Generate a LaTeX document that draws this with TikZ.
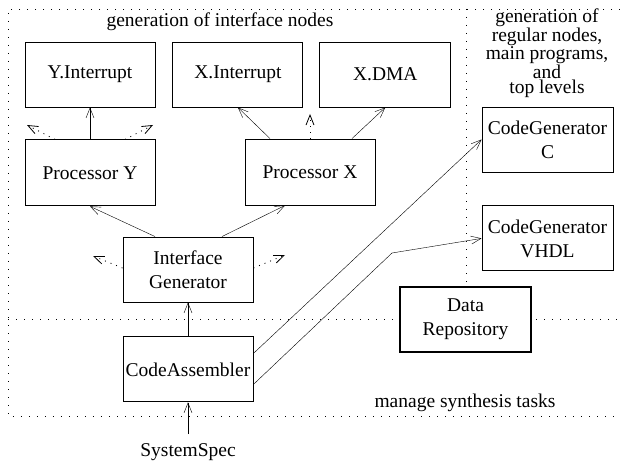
\documentclass[tikz,border=0pt]{standalone}
\usepackage{fontspec}
\setmainfont{Liberation Serif}
\usetikzlibrary{positioning,arrows.meta}

\begin{document}
\begin{tikzpicture}[x=1pt,y=1pt,
  font=\fontsize{19.5}{24}\selectfont,
  >={Straight Barb[length=10pt,width=8pt]},
  box/.style={draw, fill=white, line width=0.9pt, minimum width=130pt,
    minimum height=65pt, inner sep=0pt, align=center},
  frame/.style={line width=0.9pt, dash pattern=on 0.9pt off 7.1pt},
  hint/.style={->, line width=0.8pt, dash pattern=on 1pt off 5pt}]
  \useasboundingbox (0,0) rectangle (620,461);
  % f1--f4 are the corners of the dotted frame
  \coordinate (f1) at (8,452);
  \coordinate (f2) at (620,452);
  \coordinate (f3) at (8,45);
  \coordinate (f4) at (620,45);
  % m1-m2 splits the frame, v1-v2 splits its upper part
  \coordinate (m1) at (8,142);
  \coordinate (m2) at (620,142);
  \coordinate (v1) at (466,452);
  \coordinate (v2) at (466,179);
  \draw[frame] (f2) -- (f1) -- (f3) -- (f4);
  \draw[frame] (m1) -- (m2);
  \draw[frame] (v1) -- (v2);
  % interface nodes
  \node[box] (yint) at (90,386.5) {Y.Interrupt};
  \node[box, right=17pt of yint] (xint) {X.Interrupt};
  \node[box, right=16pt of xint, minimum width=131pt] (xdma) {X.DMA};
  \node[box, below=32pt of yint, minimum height=66pt] (procy) {Processor Y};
  \node[box, minimum height=66pt] (procx) at (310,289) {Processor X};
  \node[box] (ifgen) at (188,191.5) {Interface\\Generator};
  \node[box, below=34pt of ifgen] (casm) {CodeAssembler};
  \node[inner ysep=9pt] (spec) at (188,9) {SystemSpec};
  % regular nodes
  \node[box, minimum width=131pt] (cgc) at (547.5,321.5) {CodeGenerator\\C};
  \node[box, minimum width=131pt, below=33pt of cgc] (cgv) {CodeGenerator\\VHDL};
  \node[box, line width=1.8pt, minimum width=131pt] (repo) at (465.5,141.5) {Data\\Repository};
  % labels of the areas
  \node (lint) at (220,439) {generation of interface nodes};
  \node[align=center, font=\fontsize{19.5}{15.75}\selectfont] (lreg) at (547,407.5)
    {generation of\\regular nodes,\\main programs,\\and\\top levels};
  \node (lman) at (465,58) {manage synthesis tasks};
  % free ends of the dotted arrows
  \coordinate (py1) at (27,336);
  \coordinate (py2) at (153,336);
  \coordinate (px1) at (310,347);
  \coordinate (ig1) at (93,205);
  \coordinate (ig2) at (285,206);
  \coordinate (bend) at (392,208);
  \draw[->] (procy) -- (yint);
  \draw[->] ([xshift=-40pt]procx.north) -- (xint.south);
  \draw[->] ([xshift=42pt]procx.north) -- (xdma.south);
  \draw[->] ([xshift=-33pt]ifgen.north) -- (procy.south);
  \draw[->] ([xshift=34pt]ifgen.north) -- ([xshift=-25pt]procx.south);
  \draw[->] (casm) -- (ifgen);
  \draw[->] (spec) -- (casm);
  \draw[->] ([yshift=16pt]casm.east) -- (cgc.west);
  \draw[->] ([yshift=-15pt]casm.east) -- (bend) -- (cgv.west);
  \draw[hint] ([xshift=-35pt]procy.north) -- (py1);
  \draw[hint] ([xshift=35pt]procy.north) -- (py2);
  \draw[hint] (procx.north) -- (px1);
  \draw[hint] ([yshift=1.5pt]ifgen.west) -- (ig1);
  \draw[hint] ([yshift=1.5pt]ifgen.east) -- (ig2);
\end{tikzpicture}
\end{document}
